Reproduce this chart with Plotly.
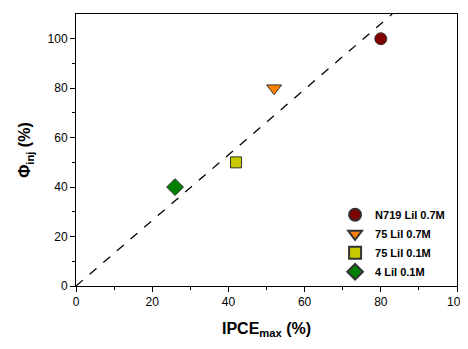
import plotly.graph_objects as go

names = ["N719 LiI 0.7M", "75 LiI 0.7M", "75 LiI 0.1M", "4 LiI 0.1M"]
ipce = [80, 52, 42, 26]
phi = [100, 80, 50, 40]
symbols = ["circle", "triangle-down", "square", "diamond"]
colors = ["#800000", "#ff8000", "#c8c800", "#008000"]
sizes = [12, 13, 11, 13]

fit_x = [0, 83]
fit_y = [0, 110]

fig = go.Figure()
fig.add_trace(go.Scatter(x=fit_x, y=fit_y, mode="lines",
                         line=dict(color="black", dash="dash", width=1.3),
                         showlegend=False, hoverinfo="skip"))
for n, xv, yv, s, c, sz in zip(names, ipce, phi, symbols, colors, sizes):
    fig.add_trace(go.Scatter(x=[xv], y=[yv], mode="markers", name="<b>" + n + "</b>",
                             marker=dict(symbol=s, color=c, size=sz,
                                         line=dict(color="#333333", width=1))))

fig.update_layout(
    width=460, height=333,
    margin=dict(l=68, r=11, t=6, b=55),
    paper_bgcolor="white", plot_bgcolor="white",
    font=dict(family="Liberation Sans, Arial, sans-serif", size=12, color="black"),
    legend=dict(x=0.68, y=0.315, xanchor="left", yanchor="top",
                bgcolor="rgba(0,0,0,0)", font=dict(size=11, color="black"),
                itemsizing="constant", tracegroupgap=0),
    showlegend=True,
)
fig.update_xaxes(range=[0, 100], tickvals=[0, 20, 40, 60, 80, 100],
                 ticks="outside", ticklen=5, tickcolor="black", automargin=False,
                 minor=dict(tickvals=[10, 30, 50, 70, 90], ticks="outside", ticklen=3, tickcolor="black"),
                 showline=True, linecolor="black", linewidth=1, mirror=True,
                 showgrid=False, zeroline=False,
                 title=dict(text="<b>IPCE<sub>max</sub> (%)</b>", font=dict(size=16), standoff=14))
fig.update_yaxes(range=[0, 110], tickvals=[0, 20, 40, 60, 80, 100],
                 ticks="outside", ticklen=5, tickcolor="black", automargin=False,
                 minor=dict(tickvals=[10, 30, 50, 70, 90], ticks="outside", ticklen=3, tickcolor="black"),
                 showline=True, linecolor="black", linewidth=1, mirror=True,
                 showgrid=False, zeroline=False,
                 title=dict(text="<b>Φ<sub>inj</sub> (%)</b>", font=dict(size=16), standoff=12))

fig.write_html("out.html")
